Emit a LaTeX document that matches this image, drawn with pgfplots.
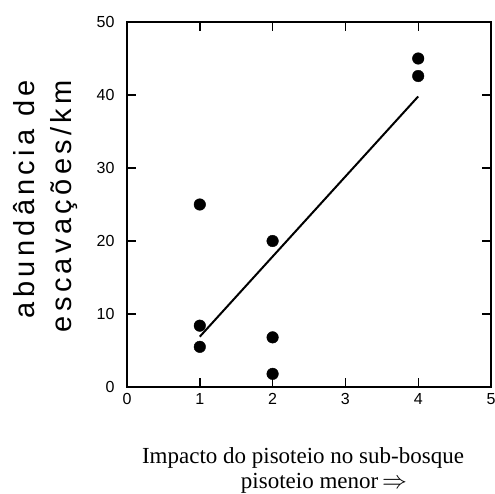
\documentclass[border=0pt]{standalone}
\usepackage{fontspec}
\setmainfont{Liberation Serif}
\newfontfamily\labsans[LetterSpace=15]{Liberation Sans}
\newfontfamily\ticksans{Liberation Sans}
\usepackage{pgfplots}
\pgfplotsset{compat=1.18}
\begin{document}
\begin{tikzpicture}[x=1pt,y=1pt]
\begin{axis}[
  at={(0,0)}, anchor=south west,
  scale only axis, width=364pt, height=365pt,
  xmin=0, xmax=5, ymin=0, ymax=50,
  xtick={0,1,2,3,4,5}, ytick={0,10,20,30,40,50},
  tick align=inside, major tick length=9pt,
  axis line style={line width=1.4pt},
  every tick/.style={line width=1.4pt, black},
  tick label style={font=\ticksans\fontsize{16}{16}\selectfont},
  /pgf/number format/assume math mode=true,
  xticklabel style={yshift=-3pt},
  yticklabel style={xshift=-9pt},
  clip=false,
]
\addplot[only marks, mark=*, mark size=5.8pt, black] coordinates {
  (1,25.0) (1,8.4) (1,5.5) (2,20.0) (2,6.8) (2,1.8) (4,45.0) (4,42.6)
};
\addplot[no marks, black, line width=2pt] coordinates {(1,6.9) (4,39.8)};
\end{axis}
\node[rotate=90, anchor=base east, inner sep=0pt, font=\labsans\fontsize{29}{29}\selectfont] at (-92,307) {abundância de};
\node[rotate=90, anchor=base east, inner sep=0pt, font=\labsans\fontsize{29}{29}\selectfont] at (-55,307) {escavações/km};
\node[anchor=base, inner sep=0pt, font=\fontsize{23}{23}\selectfont] at (176,-76) {Impacto do pisoteio no sub-bosque};
\node[anchor=base, inner sep=0pt, font=\fontsize{23}{23}\selectfont] at (197,-101) {pisoteio menor\,$\Rightarrow$};
\pgfresetboundingbox
\path[use as bounding box] (-127,-106) rectangle (368,387);
\end{tikzpicture}
\end{document}
